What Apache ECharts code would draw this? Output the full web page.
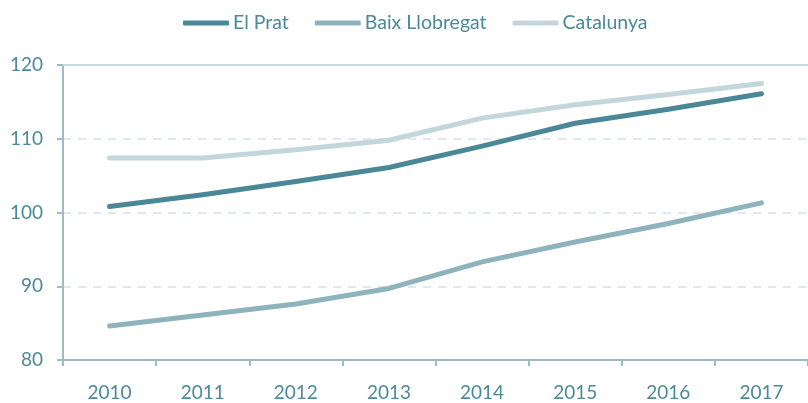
<!DOCTYPE html>
<html>
<head>
<meta charset="utf-8">
<script src="https://cdn.jsdelivr.net/npm/echarts@6/dist/echarts.min.js"></script>
<style>
  html, body { margin: 0; padding: 0; background: #fff; }
  #chart { width: 808px; height: 403px; }
</style>
</head>
<body>
<div id="chart"></div>
<script>
// valors llegits del gràfic
const years = ['2010', '2011', '2012', '2013', '2014', '2015', '2016', '2017']
const elPrat = [100.8, 102.4, 104.2, 106.1, 109.0, 112.1, 114.0, 116.1]
const baixLlobregat = [84.6, 86.1, 87.6, 89.7, 93.3, 96.0, 98.5, 101.3]
const catalunya = [107.4, 107.4, 108.5, 109.8, 112.8, 114.6, 116.0, 117.5]

const textColor = '#4a8a9a'
const axisColor = '#9dbdc6'
const font = 'Lato, "Open Sans", sans-serif'

const chart = echarts.init(document.getElementById('chart'))

function lineSeries(name, data, color) {
  return {
    name: name,
    type: 'line',
    data: data,
    symbol: 'none',
    color: color,
    lineStyle: { width: 5, color: color, cap: 'round', join: 'round' }
  }
}

chart.setOption({
  animation: false,
  legend: {
    top: 13,
    left: 183,
    padding: 0,
    icon: 'roundRect',
    itemWidth: 46,
    itemHeight: 5,
    itemGap: 26,
    textStyle: { color: textColor, fontSize: 19.5, fontFamily: font, padding: [0, 0, 0, -1] },
    data: ['El Prat', 'Baix Llobregat', 'Catalunya']
  },
  grid: { left: 63, right: -5, top: 65, bottom: 43, containLabel: false },
  xAxis: [
    {
      type: 'category',
      data: years,
      boundaryGap: true,
      axisLine: { lineStyle: { color: axisColor, width: 2 } },
      axisTick: { show: true, length: 6, lineStyle: { color: axisColor, width: 2 } },
      axisLabel: { color: textColor, fontSize: 19, fontFamily: font, margin: 23 }
    },
    {
      // línia superior contínua a 120
      type: 'category',
      data: years,
      position: 'top',
      axisLine: { lineStyle: { color: '#c9dbe0', width: 2 } },
      axisTick: { show: false },
      axisLabel: { show: false }
    }
  ],
  yAxis: {
    type: 'value',
    min: 80,
    max: 120,
    interval: 10,
    axisLine: { show: true, lineStyle: { color: axisColor, width: 2 } },
    axisTick: { show: true, length: 6, lineStyle: { color: axisColor, width: 2 } },
    axisLabel: { color: textColor, fontSize: 19, fontFamily: font, margin: 20 },
    splitLine: { show: true, lineStyle: { color: '#dfe8ec', width: 2, type: [8, 7] } }
  },
  series: [
    lineSeries('El Prat', elPrat, '#4a8797'),
    lineSeries('Baix Llobregat', baixLlobregat, '#8fb3bd'),
    lineSeries('Catalunya', catalunya, '#c3d6dc')
  ]
})
</script>
</body>
</html>
